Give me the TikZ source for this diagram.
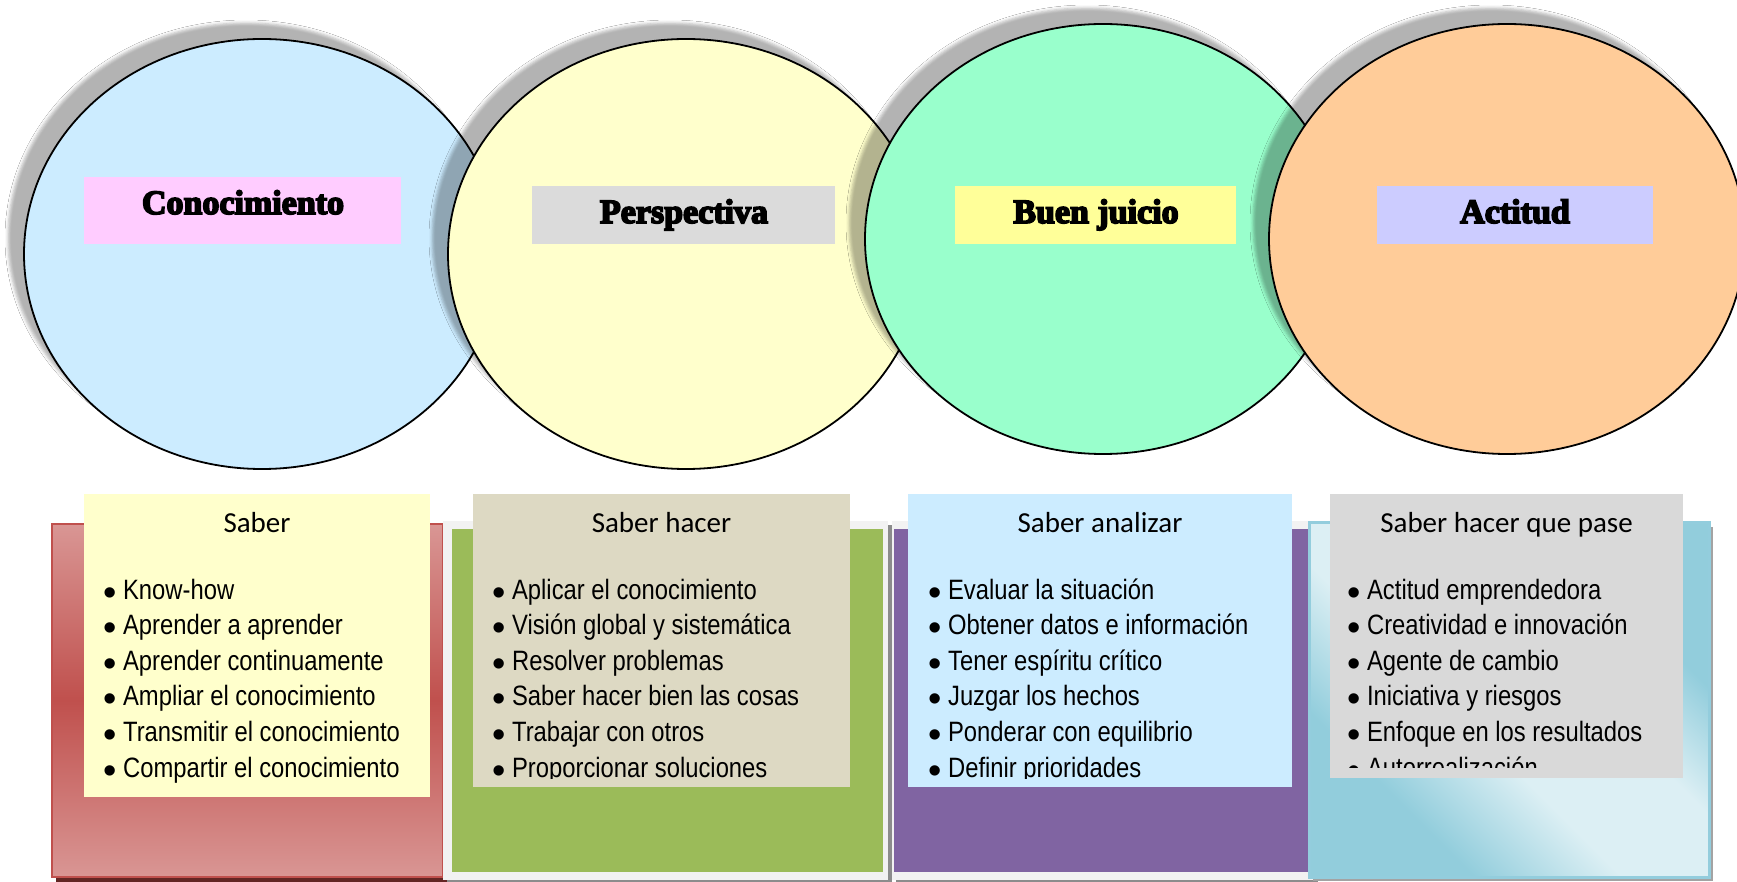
\documentclass[tikz,border=0pt]{standalone}
\usepackage{fontspec}
\setmainfont{Liberation Sans}
\newfontfamily\titlefont[FakeBold=5]{Liberation Serif}
\newfontfamily\headfont{Carlito}
\newfontfamily\itemfont[FakeStretch=0.85]{Liberation Sans}
\usetikzlibrary{shadows.blur}

\definecolor{circA}{HTML}{CCECFF}
\definecolor{circB}{HTML}{FFFFCC}
\definecolor{circC}{HTML}{99FFCC}
\definecolor{circD}{HTML}{FFCC99}
\definecolor{tagA}{HTML}{FFCCFF}
\definecolor{tagB}{HTML}{DBDBDB}
\definecolor{tagC}{HTML}{FFFF99}
\definecolor{tagD}{HTML}{CCCCFF}
\definecolor{redlt}{HTML}{D99694}
\definecolor{reddk}{HTML}{C0504D}
\definecolor{redsh}{HTML}{632523}
\definecolor{panelframe}{HTML}{F2F2F2}
\definecolor{panelsh}{HTML}{8C8C8C}
\definecolor{greenfill}{HTML}{9BBB59}
\definecolor{purplefill}{HTML}{8064A2}
\definecolor{cyanlt}{HTML}{DCEFF4}
\definecolor{cyandk}{HTML}{92CDDC}
\definecolor{cyanbd}{HTML}{93CDDD}
\definecolor{noteA}{HTML}{FFFFCC}
\definecolor{noteB}{HTML}{DDD9C3}
\definecolor{noteC}{HTML}{CCECFF}
\definecolor{noteD}{HTML}{D9D9D9}

% diagonal light band across the cyan panel
\pgfdeclareverticalshading{cyanband}{100bp}{%
  color(0bp)=(cyandk); color(30bp)=(cyandk); color(44bp)=(cyanlt);
  color(58bp)=(cyanlt); color(70bp)=(cyandk); color(100bp)=(cyandk)}

\newcommand\bul{\raisebox{-3pt}{\rmfamily\fontsize{19}{17}\selectfont\textbullet}\hspace{3.2pt}}

\newcommand\itemcolumn[4]{%
  \begin{scope}
    \clip (#2-30,480) rectangle (#2+420,#3);
    \foreach \t [count=\i] in {#4}
      \node[listitem] (#1-\i) at (#2, 599+35.6*\i-35.6) {\bul\t};
  \end{scope}}

\begin{document}
\begin{tikzpicture}[x=0.5pt,y=-0.5pt,
  circ/.style={draw=black, line width=0.9pt,
    blur shadow={shadow xshift=-8pt, shadow yshift=8pt,
      shadow opacity=30, shadow blur radius=1.5pt}},
  titletext/.style={anchor=base, inner sep=0pt,
    font=\titlefont\bfseries\fontsize{17}{20}\selectfont},
  headtext/.style={anchor=base, inner sep=0pt,
    font=\headfont\fontsize{14.5}{17}\selectfont},
  listitem/.style={anchor=base west, inner sep=0pt,
    font=\itemfont\fontsize{14}{17}\selectfont}]

\useasboundingbox (0,0) rectangle (1737,882);
\fill[white] (0,0) rectangle (1737,882);

% four overlapping ellipses with soft shadows
\path[circ, fill=circA] (262,254) ellipse [x radius=238, y radius=215];
\path[circ, fill=circB] (686,254) ellipse [x radius=238, y radius=215];
\path[circ, fill=circC] (1103,239) ellipse [x radius=238, y radius=215];
\path[circ, fill=circD] (1507,239) ellipse [x radius=238, y radius=215];

% title labels
\fill[tagA] (84,177) rectangle (401,244);
\fill[tagB] (532,186) rectangle (835,244);
\fill[tagC] (955,186) rectangle (1236,244);
\fill[tagD] (1377,186) rectangle (1653,244);
\node[titletext] (tConocimiento) at (243,214) {Conocimiento};
\node[titletext] (tPerspectiva) at (684,223) {Perspectiva};
\node[titletext] (tJuicio) at (1096,223) {Buen juicio};
\node[titletext] (tActitud) at (1515,223) {Actitud};

% red panel
\fill[redsh] (56,529) rectangle (448,882);
\path[draw=reddk, line width=1pt, top color=redlt, bottom color=redlt, middle color=reddk]
  (52,524) rectangle (443,877);

% green panel with light frame
\fill[panelsh] (447,525) rectangle (892,883);
\fill[panelframe] (443,521) rectangle (888,880);
\fill[greenfill] (452,529) rectangle (883,872);

% purple panel
\fill[panelsh] (896,525) rectangle (1318,883);
\fill[panelframe] (892,521) rectangle (1314,880);
\fill[purplefill] (894,529) rectangle (1310,872);

% cyan panel
\fill[panelsh!80] (1313,527) rectangle (1713,881);
\path[draw=cyanbd, line width=1.5pt, shading=cyanband, shading angle=-45]
  (1309,523) rectangle (1709,877);

% text panels
\fill[noteA] (84,494) rectangle (430,797);
\fill[noteB] (473,494) rectangle (850,787);
\fill[noteC] (908,494) rectangle (1292,787);
\fill[noteD] (1330,494) rectangle (1683,778);

\node[headtext] (hSaber) at (257,532) {Saber};
\node[headtext] (hHacer) at (661.5,532) {Saber hacer};
\node[headtext] (hAnalizar) at (1100,532) {Saber analizar};
\node[headtext] (hPase) at (1506.5,532) {Saber hacer que pase};

\itemcolumn{kA}{103}{787}{Know-how,Aprender a aprender,Aprender continuamente,Ampliar el conocimiento,Transmitir el conocimiento,Compartir el conocimiento}
\itemcolumn{kB}{492}{778}{Aplicar el conocimiento,Visión global y sistemática,Resolver problemas,Saber hacer bien las cosas,Trabajar con otros,Proporcionar soluciones}
\itemcolumn{kC}{928}{778}{Evaluar la situación,Obtener datos e información,Tener espíritu crítico,Juzgar los hechos,Ponderar con equilibrio,Definir prioridades}
\itemcolumn{kD}{1347}{767}{Actitud emprendedora,Creatividad e innovación,Agente de cambio,Iniciativa y riesgos,Enfoque en los resultados,Autorrealización}

\end{tikzpicture}
\end{document}
